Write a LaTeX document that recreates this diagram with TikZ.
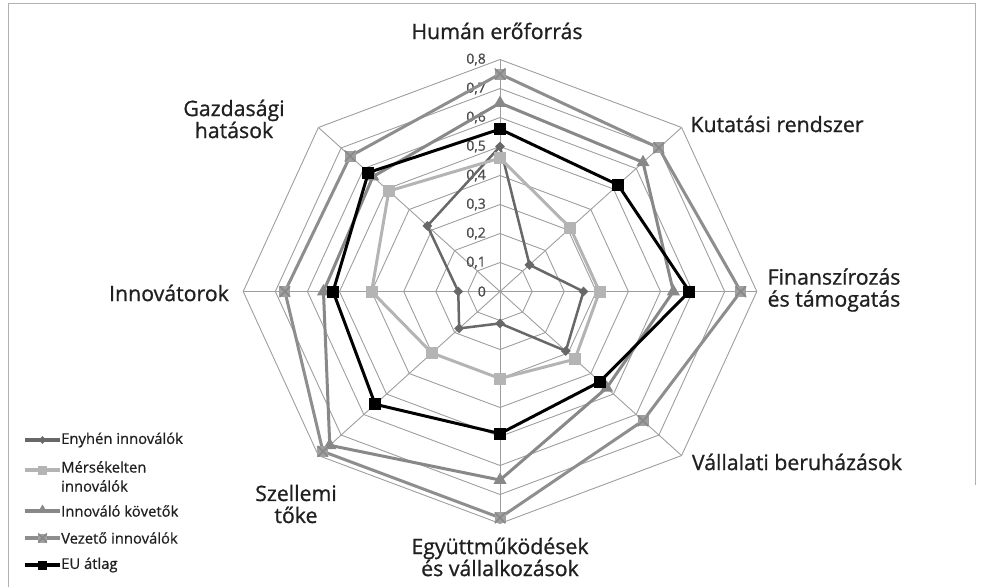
\documentclass[tikz,border=0pt]{standalone}
\usepackage{fontspec}
\setmainfont{Open Sans}
\newfontfamily\labfont{Open Sans}[FakeBold=0.9]
\newfontfamily\smallfont{Open Sans}[FakeBold=0.7]
\usetikzlibrary{shapes.geometric}
\definecolor{gridc}{HTML}{9E9E9E}
\definecolor{enyc}{HTML}{686868}
\definecolor{mersc}{HTML}{B4B4B4}
\definecolor{kovc}{HTML}{888888}
\definecolor{vezc}{HTML}{8E8E8E}
\definecolor{txtc}{HTML}{202020}
\definecolor{tickc}{HTML}{4A4A4A}
\tikzset{
  gridline/.style={draw=gridc, line width=0.9pt},
  frameline/.style={draw=gridc!80, line width=1pt},
  enyline/.style={draw=enyc, line width=2.5pt, line join=round},
  mersline/.style={draw=mersc, line width=3pt, line join=round},
  kovline/.style={draw=kovc, line width=3pt, line join=round},
  vezline/.style={draw=vezc, line width=3pt, line join=round},
  euline/.style={draw=black, line width=3pt, line join=round},
  legw/.style={line width=3.6pt},
  mdiam/.style={diamond, aspect=1, fill=enyc, minimum size=10pt, inner sep=0pt},
  msq/.style={rectangle, fill=mersc, minimum size=12pt, inner sep=0pt},
  mtri/.style={regular polygon, regular polygon sides=3, fill=kovc, minimum size=15pt, inner sep=0pt},
  mx/.style={rectangle, fill=vezc!85, minimum size=11pt, inner sep=0pt,
     path picture={\draw[vezc!60!black!70, line width=1.6pt]
       (path picture bounding box.north west) -- (path picture bounding box.south east)
       (path picture bounding box.north east) -- (path picture bounding box.south west);}},
  meu/.style={rectangle, fill=black, minimum size=12pt, inner sep=0pt},
  catlab/.style={text=txtc, font=\labfont\fontsize{21.3}{22}\selectfont, align=center, inner sep=0pt},
  ticklab/.style={text=tickc, font=\smallfont\fontsize{14}{14}\selectfont, inner sep=0pt, anchor=east},
  leglab/.style={text=txtc, font=\smallfont\fontsize{14.8}{19}\selectfont, inner sep=0pt, anchor=west, align=left},
}
\begin{document}
\begin{tikzpicture}[x=1pt,y=-1pt]
\useasboundingbox (0,0) rectangle (981,587);
% frame
\coordinate (f1) at (8,587);
\coordinate (f2) at (8,3);
\coordinate (f3) at (975,3);
\coordinate (f4) at (975,485);
\draw[frameline] (f1) -- (f2) -- (f3) -- (f4);
\begin{scope}[shift={(500,291.5)}]
\begin{scope}[x=321pt,y=290pt]
  % grid rings
  \foreach \i in {1,...,8}{
    \pgfmathsetmacro{\r}{\i/10}
    \draw[gridline] (0:\r) -- (45:\r) -- (90:\r) -- (135:\r) -- (180:\r) -- (225:\r) -- (270:\r) -- (315:\r) -- cycle;
  }
  \coordinate (c) at (0,0);
  \foreach \a [count=\k] in {90,45,0,-45,-90,-135,180,135}{
    \coordinate (ax\k) at (\a:0.8);
    \draw[gridline] (c) -- (ax\k);
  }
  % tick labels
  \node[ticklab, xshift=-14pt] (t0) at (90:0) {0};
  \foreach \i in {1,...,8}{
    \pgfmathsetmacro{\r}{\i/10}
    \node[ticklab, xshift=-14pt] (t\i) at (90:\r) {0,\i};
  }
  % data coordinates
  \foreach \v [count=\k from 0] in {0.50,0.13,0.26,0.29,0.11,0.18,0.13,0.32}{
    \coordinate (e\k) at ({90-45*\k}:\v);}
  \foreach \v [count=\k from 0] in {0.46,0.31,0.31,0.33,0.30,0.30,0.40,0.49}{
    \coordinate (m\k) at ({90-45*\k}:\v);}
  \foreach \v [count=\k from 0] in {0.65,0.63,0.54,0.47,0.65,0.75,0.55,0.56}{
    \coordinate (k\k) at ({90-45*\k}:\v);}
  \foreach \v [count=\k from 0] in {0.75,0.70,0.75,0.63,0.78,0.78,0.67,0.66}{
    \coordinate (v\k) at ({90-45*\k}:\v);}
  \foreach \v [count=\k from 0] in {0.56,0.52,0.59,0.44,0.49,0.55,0.52,0.58}{
    \coordinate (u\k) at ({90-45*\k}:\v);}
  % series
  \draw[enyline] (e0) -- (e1) -- (e2) -- (e3) -- (e4) -- (e5) -- (e6) -- (e7) -- cycle;
  \foreach \k in {0,...,7}{\node[mdiam] (me\k) at (e\k) {};}
  \draw[mersline] (m0) -- (m1) -- (m2) -- (m3) -- (m4) -- (m5) -- (m6) -- (m7) -- cycle;
  \foreach \k in {0,...,7}{\node[msq] (mm\k) at (m\k) {};}
  \draw[kovline] (k0) -- (k1) -- (k2) -- (k3) -- (k4) -- (k5) -- (k6) -- (k7) -- cycle;
  \foreach \k in {0,...,7}{\node[mtri] (mk\k) at (k\k) {};}
  \draw[vezline] (v0) -- (v1) -- (v2) -- (v3) -- (v4) -- (v5) -- (v6) -- (v7) -- cycle;
  \foreach \k in {0,...,7}{\node[mx] (mv\k) at (v\k) {};}
  \draw[euline] (u0) -- (u1) -- (u2) -- (u3) -- (u4) -- (u5) -- (u6) -- (u7) -- cycle;
  \foreach \k in {0,...,7}{\node[meu] (mu\k) at (u\k) {};}
\end{scope}
\end{scope}
% category labels
\node[catlab] (lhum) at (497,31) {Humán erőforrás};
\node[catlab] (lkut) at (777,124) {Kutatási rendszer};
\node[catlab] (lfin) at (834,290) {Finanszírozás\\és támogatás};
\node[catlab] (lval) at (797,462) {Vállalati beruházások};
\node[catlab] (legy) at (500,557) {Együttműködések\\és vállalkozások};
\node[catlab] (lsze) at (296,504) {Szellemi\\tőke};
\node[catlab] (linn) at (169,293) {Innovátorok};
\node[catlab] (lgaz) at (234,119) {Gazdasági\\hatások};
% legend
\coordinate (la1) at (25,440); \coordinate (lb1) at (60,440);
\draw[enyline, legw] (la1) -- (lb1); \node[mdiam, minimum size=8pt] (lm1) at (42.5,440) {};
\node[leglab] (lt1) at (61,440) {Enyhén innoválók};
\coordinate (la2) at (25,470); \coordinate (lb2) at (60,470);
\draw[mersline, legw] (la2) -- (lb2); \node[msq, minimum size=9pt] (lm2) at (42.5,470) {};
\node[leglab, anchor=north west] (lt2) at (61,461) {Mérsékelten\\innoválók};
\coordinate (la3) at (25,511); \coordinate (lb3) at (60,511);
\draw[kovline, legw] (la3) -- (lb3); \node[mtri, minimum size=11pt] (lm3) at (42.5,510) {};
\node[leglab] (lt3) at (61,511) {Innováló követők};
\coordinate (la4) at (25,538); \coordinate (lb4) at (60,538);
\draw[vezline, legw] (la4) -- (lb4); \node[mx, minimum size=9pt] (lm4) at (42.5,538) {};
\node[leglab] (lt4) at (61,538) {Vezető innoválók};
\coordinate (la5) at (25,565); \coordinate (lb5) at (60,565);
\draw[euline, legw] (la5) -- (lb5); \node[meu, minimum size=9pt] (lm5) at (42.5,565) {};
\node[leglab] (lt5) at (61,565) {EU átlag};
\end{tikzpicture}
\end{document}
